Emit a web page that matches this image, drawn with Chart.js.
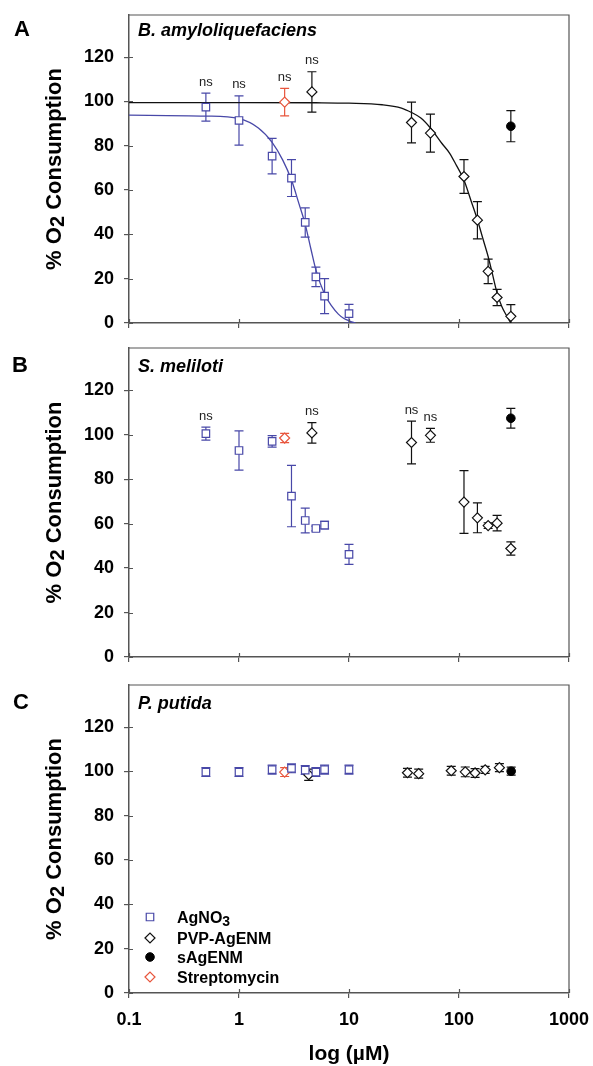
<!DOCTYPE html>
<html>
<head>
<meta charset="utf-8">
<script src="https://cdn.jsdelivr.net/npm/chart.js@4.4.1/dist/chart.umd.min.js"></script>
<style>
  body { margin: 0; background: #fff; }
  #wrap { position: relative; width: 593px; height: 1066px; }
  canvas { position: absolute; left: 0; }
</style>
</head>
<body>
<div id="wrap">
  <canvas id="chartA" width="593" height="333" style="top:0"></canvas>
  <canvas id="chartB" width="593" height="335" style="top:333px"></canvas>
  <canvas id="chartC" width="593" height="398" style="top:668px"></canvas>
</div>
<script>
// couleurs et police
const AXIS = '#555';
const BLUE = '#4848a8';
const RED = '#e8553c';
const BLACK = '#111';
const FONT = '"Liberation Sans", Arial, Helvetica, sans-serif';

// axes
const xTicks = [0.1, 1, 10, 100, 1000];
const xTickLabels = ['0.1', '1', '10', '100', '1000'];
const yTicks = [0, 20, 40, 60, 80, 100, 120];

// concentrations
const agX = [0.5, 1, 2, 3, 4, 5, 6, 10];
const strepX = [2.6];
const pvpX = [4.6, 37, 55, 111, 147, 184, 222, 296];
const sagX = [296];
const pvpXC = [4.3, 34, 43, 85, 114, 140, 173, 233];
const sagXC = [298];

// A - B. amyloliquefaciens
const aAgY = [97.4, 91.4, 75.3, 65.4, 45.4, 20.8, 12.1, 4.2];
const aAgErr = [6.3, 11.1, 8.0, 8.3, 6.6, 4.4, 7.9, 4.2];
const aStrepY = [99.7];
const aStrepErr = [6.2];
const aPvpY = [104.3, 90.5, 85.7, 66.1, 46.4, 23.3, 11.5, 3.0];
const aPvpErr = [9.1, 9.2, 8.6, 7.6, 8.4, 5.5, 3.7, 5.3];
const aSagY = [88.8];
const aSagErr = [7.0];
// courbes ajustées
const aAgFitX = [0.1, 0.5, 1, 1.5, 2, 2.5, 3, 3.5, 4, 4.5, 5, 6, 7, 8, 9, 10, 11.5];
const aAgFitY = [93.8, 93.4, 92.2, 88, 81.5, 73.5, 64.5, 54, 44.5, 33.5, 24, 13, 7.5, 4, 2, 1, 0];
const aPvpFitX = [0.1, 1, 5, 10, 20, 30, 37, 45, 55, 70, 82, 95, 110, 130, 147, 165, 184, 200, 222, 245, 268, 296];
const aPvpFitY = [99.5, 99.5, 99.4, 99.2, 98.5, 97, 95, 92.5, 88, 81, 76.7, 71, 65, 54.5, 46.6, 38, 30, 22.7, 13.5, 7.5, 3.7, 0];
const aNs = [['ag', 0], ['ag', 1], ['strep', 0], ['pvp', 0]];

// B - S. meliloti
const bAgY = [100.5, 92.9, 97.0, 72.4, 61.4, 57.8, 59.3, 46.2];
const bAgErr = [2.9, 8.8, 2.6, 13.8, 5.6, 1.1, 1.7, 4.5];
const bStrepY = [98.5];
const bStrepErr = [2.1];
const bPvpY = [100.8, 96.5, 99.7, 69.7, 62.6, 59.1, 60.2, 48.8];
const bPvpErr = [4.6, 9.6, 3.1, 14.1, 6.7, 1.3, 3.5, 3.0];
const bSagY = [107.4];
const bSagErr = [4.4];
const bNs = [['ag', 0], ['pvp', 0], ['pvp', 1], ['pvp', 2]];

// C - P. putida
const cAgY = [99.7, 99.7, 100.8, 101.4, 100.6, 99.7, 100.8, 100.8];
const cAgErr = [2.0, 2.0, 2.0, 2.0, 2.0, 2.0, 2.0, 2.0];
const cStrepY = [99.7];
const cStrepErr = [2.0];
const cPvpY = [98.5, 99.4, 99.0, 100.3, 99.8, 99.3, 100.7, 101.7];
const cPvpErr = [2.5, 2.0, 2.0, 2.0, 2.2, 2.0, 1.6, 1.8];
const cSagY = [100.1];
const cSagErr = [1.8];

// légende (texte principal, indice)
const legendLabels = [['AgNO', '3'], ['PVP-AgENM', ''], ['sAgENM', ''], ['Streptomycin', '']];

const styleAg = { pointStyle: 'rect', pointRadius: 5.3, pointBackgroundColor: '#fff', pointBorderColor: BLUE, pointBorderWidth: 1.2, borderColor: BLUE };
const stylePvp = { pointStyle: 'rectRot', pointRadius: 5, pointBackgroundColor: '#fff', pointBorderColor: BLACK, pointBorderWidth: 1.2, borderColor: BLACK };
const styleSag = { pointStyle: 'circle', pointRadius: 4.3, pointBackgroundColor: '#000', pointBorderColor: '#000', pointBorderWidth: 1, borderColor: BLACK };
const styleStrep = { pointStyle: 'rectRot', pointRadius: 5, pointBackgroundColor: '#fff', pointBorderColor: RED, pointBorderWidth: 1.2, borderColor: RED };
const legendStyles = [styleAg, stylePvp, styleSag, styleStrep];

function pts(xs, ys) {
  return xs.map((x, i) => ({ x: x, y: ys[i] }));
}

function markerSet(key, xs, ys, errs, style) {
  return Object.assign({ key: key, data: pts(xs, ys), errors: errs, showLine: false, order: 1 }, style);
}

function curveSet(xs, ys, color) {
  return { data: pts(xs, ys), showLine: true, borderColor: color, borderWidth: 1.3, pointRadius: 0,
    cubicInterpolationMode: 'monotone', fill: false, order: 3 };
}

// barres d'erreur dessinées avec les échelles du graphique
const errorBars = {
  id: 'errorBars',
  beforeDatasetsDraw(chart) {
    const { ctx, chartArea: a, scales: { x, y } } = chart;
    ctx.save();
    ctx.beginPath();
    ctx.rect(a.left, a.top - 2, a.right - a.left, a.bottom - a.top + 2);
    ctx.clip();
    chart.data.datasets.forEach(ds => {
      if (!ds.errors) return;
      ctx.strokeStyle = ds.borderColor;
      ctx.lineWidth = 1.2;
      ds.data.forEach((p, i) => {
        const e = ds.errors[i];
        const px = x.getPixelForValue(p.x);
        const top = y.getPixelForValue(p.y + e);
        const bot = y.getPixelForValue(p.y - e);
        ctx.beginPath();
        ctx.moveTo(px, top); ctx.lineTo(px, bot);
        ctx.moveTo(px - 4.5, top); ctx.lineTo(px + 4.5, top);
        ctx.moveTo(px - 4.5, bot); ctx.lineTo(px + 4.5, bot);
        ctx.stroke();
      });
    });
    ctx.restore();
  }
};

function subText(ctx, main, sub, x, y, size) {
  ctx.font = 'bold ' + size + 'px ' + FONT;
  ctx.fillText(main, x, y);
  const w = ctx.measureText(main).width;
  ctx.font = 'bold ' + Math.round(size * 0.88) + 'px ' + FONT;
  ctx.fillText(sub, x + w, y + 3);
}

function makePanel(id, p) {
  const datasets = [
    markerSet('ag', agX, p.agY, p.agErr, styleAg),
    markerSet('pvp', p.pvpX, p.pvpY, p.pvpErr, stylePvp),
    markerSet('sag', p.sagX, p.sagY, p.sagErr, styleSag),
    markerSet('strep', strepX, p.strepY, p.strepErr, styleStrep)
  ];
  (p.curves || []).forEach(c => datasets.push(curveSet(c[0], c[1], c[2])));

  const decor = {
    id: 'decor',
    afterDraw(chart) {
      const { ctx, chartArea: a, scales: { x, y } } = chart;
      ctx.save();
      // cadre haut et droit
      ctx.strokeStyle = AXIS;
      ctx.lineWidth = 1.2;
      ctx.beginPath();
      ctx.moveTo(a.left, a.top); ctx.lineTo(a.right, a.top); ctx.lineTo(a.right, a.bottom);
      ctx.stroke();
      // graduations vers l'intérieur
      ctx.beginPath();
      xTicks.forEach(v => {
        const px = Math.round(x.getPixelForValue(v)) + 0.5;
        ctx.moveTo(px, a.bottom); ctx.lineTo(px, a.bottom - 4);
      });
      yTicks.forEach(v => {
        const py = Math.round(y.getPixelForValue(v)) + 0.5;
        ctx.moveTo(a.left, py); ctx.lineTo(a.left + 4, py);
      });
      ctx.stroke();

      ctx.fillStyle = '#000';
      ctx.textBaseline = 'alphabetic';
      // lettre du panneau
      ctx.font = 'bold 22px ' + FONT;
      ctx.textAlign = 'left';
      ctx.fillText(p.letter, p.letterX, a.top + p.textDy);
      // espèce
      ctx.font = 'italic bold 18px ' + FONT;
      ctx.fillText(p.species, a.left + 9, a.top + p.textDy);

      // titre de l'axe y : % O2 Consumption
      ctx.save();
      ctx.translate(61, (a.top + a.bottom) / 2);
      ctx.rotate(-Math.PI / 2);
      ctx.font = 'bold 22px ' + FONT;
      const w1 = ctx.measureText('% O').width;
      const w3 = ctx.measureText(' Consumption').width;
      ctx.font = 'bold 20px ' + FONT;
      const w2 = ctx.measureText('2').width;
      const sx = -(w1 + w2 + w3) / 2;
      ctx.font = 'bold 22px ' + FONT;
      ctx.fillText('% O', sx, 0);
      ctx.font = 'bold 20px ' + FONT;
      ctx.fillText('2', sx + w1, 3);
      ctx.font = 'bold 22px ' + FONT;
      ctx.fillText(' Consumption', sx + w1 + w2, 0);
      ctx.restore();

      // "ns"
      ctx.font = '13px ' + FONT;
      ctx.textAlign = 'center';
      ctx.textBaseline = 'middle';
      ctx.fillStyle = '#222';
      (p.ns || []).forEach(n => {
        const ds = chart.data.datasets.find(d => d.key === n[0]);
        const pt = ds.data[n[1]];
        const top = y.getPixelForValue(pt.y + ds.errors[n[1]]);
        ctx.fillText('ns', x.getPixelForValue(pt.x), top - 11);
      });

      if (p.legend) {
        // légende
        ctx.textAlign = 'left';
        ctx.textBaseline = 'alphabetic';
        const rows = [a.bottom - 76, a.bottom - 55, a.bottom - 36, a.bottom - 16];
        legendLabels.forEach((lab, i) => {
          const st = legendStyles[i];
          ctx.fillStyle = st.pointBackgroundColor;
          ctx.strokeStyle = st.pointBorderColor;
          ctx.lineWidth = st.pointBorderWidth;
          Chart.helpers.drawPoint(ctx, { pointStyle: st.pointStyle, radius: st.pointRadius, borderWidth: st.pointBorderWidth, rotation: 0 }, a.left + 21, rows[i]);
          ctx.fillStyle = '#000';
          subText(ctx, lab[0], lab[1], a.left + 48, rows[i] + 6, 16);
        });
        // titre de l'axe x
        ctx.font = 'bold 21px ' + FONT;
        ctx.textAlign = 'center';
        ctx.fillText('log (\u00b5M)', (a.left + a.right) / 2, a.bottom + 67);
      }
      ctx.restore();
    }
  };

  return new Chart(document.getElementById(id), {
    type: 'scatter',
    data: { datasets: datasets },
    options: {
      responsive: false,
      animation: false,
      layout: { padding: { top: p.padTop, right: 24, left: 0, bottom: 0 } },
      plugins: { legend: { display: false }, tooltip: { enabled: false } },
      scales: {
        x: {
          type: 'logarithmic', min: 0.1, max: 1000,
          afterBuildTicks: s => { s.ticks = xTicks.map(v => ({ value: v })); },
          afterFit: s => { s.height = p.xAxisH; s.paddingLeft = 0; s.paddingRight = 0; },
          grid: { drawOnChartArea: false, tickLength: 5, color: AXIS, lineWidth: 1.2 },
          border: { color: AXIS, width: 1.5 },
          ticks: { display: p.showX, padding: 11, color: '#000', font: { family: FONT, size: 18, weight: 'bold' },
            maxRotation: 0, autoSkip: false, callback: (v, i) => xTickLabels[i] }
        },
        y: {
          min: 0, max: 139,
          afterBuildTicks: s => { s.ticks = yTicks.map(v => ({ value: v })); },
          afterFit: s => { s.width = 129; s.paddingTop = 0; s.paddingBottom = 0; },
          grid: { drawOnChartArea: false, tickLength: 5, color: AXIS, lineWidth: 1.2 },
          border: { color: AXIS, width: 1.5 },
          ticks: { padding: 10, color: '#000', font: { family: FONT, size: 18, weight: 'bold' } }
        }
      }
    },
    plugins: [errorBars, decor]
  });
}

makePanel('chartA', {
  letter: 'A', species: 'B. amyloliquefaciens', letterX: 14, textDy: 21,
  padTop: 15, xAxisH: 10, showX: false,
  agY: aAgY, agErr: aAgErr, strepY: aStrepY, strepErr: aStrepErr,
  pvpX: pvpX, pvpY: aPvpY, pvpErr: aPvpErr, sagX: sagX, sagY: aSagY, sagErr: aSagErr,
  curves: [[aAgFitX, aAgFitY, BLUE], [aPvpFitX, aPvpFitY, BLACK]],
  ns: aNs
});

makePanel('chartB', {
  letter: 'B', species: 'S. meliloti', letterX: 12, textDy: 24,
  padTop: 15, xAxisH: 11, showX: false,
  agY: bAgY, agErr: bAgErr, strepY: bStrepY, strepErr: bStrepErr,
  pvpX: pvpX, pvpY: bPvpY, pvpErr: bPvpErr, sagX: sagX, sagY: bSagY, sagErr: bSagErr,
  ns: bNs
});

makePanel('chartC', {
  letter: 'C', species: 'P. putida', letterX: 13, textDy: 24,
  padTop: 17, xAxisH: 73, showX: true, legend: true,
  agY: cAgY, agErr: cAgErr, strepY: cStrepY, strepErr: cStrepErr,
  pvpX: pvpXC, pvpY: cPvpY, pvpErr: cPvpErr, sagX: sagXC, sagY: cSagY, sagErr: cSagErr
});
</script>
</body>
</html>
